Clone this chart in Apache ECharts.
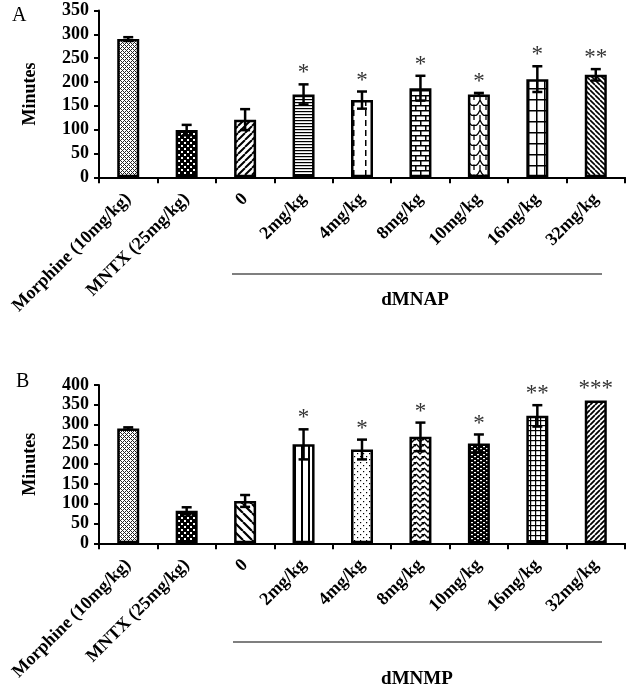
<!DOCTYPE html>
<html><head><meta charset="utf-8">
<script src="https://cdn.jsdelivr.net/npm/echarts@6/dist/echarts.min.js"></script>
<style>html,body{margin:0;padding:0;background:#fff}#c{width:630px;height:690px}</style>
</head><body><div id="c"></div>
<script>
// ---- data ----
const categories = ['Morphine (10mg/kg)', 'MNTX (25mg/kg)', '0', '2mg/kg', '4mg/kg', '8mg/kg', '10mg/kg', '16mg/kg', '32mg/kg'];
const valuesA = [290, 99, 121, 174, 162, 187, 174, 206, 215];
const errorsA = [4, 11, 22, 21, 18, 26, 3, 27, 12];
const sigA = ['', '', '', '*', '*', '*', '*', '*', '**'];
const valuesB = [290, 82, 107, 250, 237, 269, 252, 322, 361];
const errorsB = [3, 9, 15, 38, 25, 36, 23, 27, 0];
const sigB = ['', '', '', '*', '*', '*', '*', '**', '***'];
const yMaxA = 350, yMaxB = 400, yStep = 50;
const groupA = 'dMNAP', groupB = 'dMNMP';
const panelA = 'A', panelB = 'B';
const yTitle = 'Minutes';

// ---- patterns ----
const SERIF = '"Times New Roman", "Liberation Serif", serif';
function tile(w, h, draw, bg) {
  const c = document.createElement('canvas'); c.width = w; c.height = h;
  const g = c.getContext('2d');
  g.fillStyle = bg || '#fff'; g.fillRect(0, 0, w, h);
  g.strokeStyle = '#000'; g.fillStyle = '#000';
  draw(g, w, h);
  return { image: c, repeat: 'repeat' };
}
function diag(s, lw, dir) {
  return tile(s, s, g => {
    g.lineWidth = lw; g.beginPath();
    for (const k of [-s, 0, s]) {
      if (dir > 0) { g.moveTo(k, s); g.lineTo(k + s, 0); }
      else { g.moveTo(k, 0); g.lineTo(k + s, s); }
    }
    g.stroke();
  });
}
const pCross = tile(4, 4, g => {
  g.fillStyle = '#222';
  [[0,0],[1,1],[2,2],[3,3],[1,3],[3,1]].forEach(p => g.fillRect(p[0], p[1], 1, 1));
});
const pDarkDots = tile(6, 6, g => {
  g.fillStyle = '#fff'; g.fillRect(1, 1, 2, 2); g.fillRect(4, 4, 2, 2);
}, '#000');
const pHLines = tile(4, 3, g => { g.fillRect(0, 0, 4, 1.2); });
const pVDash = tile(12, 10, g => { g.fillRect(5, 0, 1.5, 6); });
const pBrick = tile(10, 10, g => {
  g.fillRect(0, 0, 10, 1.5); g.fillRect(0, 5, 10, 1.5);
  g.fillRect(0, 0, 1.5, 5); g.fillRect(5, 5, 1.5, 5);
});
const pScales = tile(12, 10, g => {
  g.lineWidth = 1.3; g.beginPath();
  g.moveTo(0, 0); g.quadraticCurveTo(3, 7, 6, 5); g.quadraticCurveTo(9, 7, 12, 0);
  g.moveTo(6, 5); g.quadraticCurveTo(6, 8, 6, 10);
  g.moveTo(0, 5); g.lineTo(0, 10); g.moveTo(12, 5); g.lineTo(12, 10);
  g.stroke();
});
const pGrid = tile(8, 11, g => { g.fillRect(0, 0, 8, 1.5); g.fillRect(0, 0, 1.5, 11); });
const pVLines = tile(7, 4, g => { g.fillRect(0, 0, 2, 4); });
const pSparseDots = tile(6, 6, g => { g.fillRect(0, 0, 1.2, 1.2); g.fillRect(3, 3, 1.2, 1.2); });
const pZigzag = tile(8, 6, g => {
  g.lineWidth = 1.4; g.beginPath();
  g.moveTo(0, 0); g.lineTo(4, 4); g.lineTo(8, 0);
  g.moveTo(0, 6); g.lineTo(4, 10); g.moveTo(4, -2); g.lineTo(8, 2);
  g.stroke();
});
const pDarkSmall = tile(6, 4, g => {
  g.fillStyle = '#fff'; g.fillRect(0, 0, 2, 1.2); g.fillRect(3, 2, 2, 1.2);
}, '#000');
const pSmallGrid = tile(5, 5, g => { g.fillRect(0, 0, 5, 1.2); g.fillRect(0, 0, 1.2, 5); });

const patternsA = [pCross, pDarkDots, diag(7, 2, 1), pHLines, pVDash, pBrick, pScales, pGrid, diag(5, 1.6, -1)];
const patternsB = [pCross, pDarkDots, diag(9, 2.2, -1), pVLines, pSparseDots, pZigzag, pDarkSmall, pSmallGrid, diag(5, 1.8, 1)];

// ---- chart ----
const chart = echarts.init(document.getElementById('c'), null, { renderer: 'canvas' });
const GRID_L = 99, GRID_W = 526;

function xAxis(gi) {
  return {
    type: 'category', gridIndex: gi, data: categories,
    axisLine: { lineStyle: { color: '#000', width: 2 } },
    axisTick: { show: true, length: 6, lineStyle: { color: '#000', width: 2 } },
    axisLabel: { interval: 0, rotate: 45, margin: 19, color: '#000', fontFamily: SERIF, fontWeight: 'bold', fontSize: 18 },
    splitLine: { show: false }
  };
}
function yAxis(gi, max) {
  return {
    type: 'value', gridIndex: gi, min: 0, max: max, interval: yStep,
    name: yTitle, nameLocation: 'middle', nameGap: 60,
    nameTextStyle: { color: '#000', fontFamily: SERIF, fontWeight: 'bold', fontSize: 18 },
    axisLine: { show: true, lineStyle: { color: '#000', width: 2 } },
    axisTick: { show: true, length: 5, lineStyle: { color: '#000', width: 2 } },
    axisLabel: { margin: 10, color: '#000', fontFamily: SERIF, fontWeight: 'bold', fontSize: 18 },
    splitLine: { show: false }
  };
}
function barSeries(gi, values, patterns) {
  return {
    type: 'bar', xAxisIndex: gi, yAxisIndex: gi, barWidth: 22,
    data: values.map((v, i) => ({ value: v, itemStyle: { color: patterns[i] } })),
    itemStyle: { borderColor: '#000', borderWidth: 2.5 },
    emphasis: { disabled: true }, animation: false, z: 2
  };
}
function errSeries(gi, values, errors, sig) {
  return {
    type: 'custom', xAxisIndex: gi, yAxisIndex: gi, z: 5, animation: false,
    data: values.map((v, i) => [i, v, errors[i]]),
    encode: { x: 0, y: 1 },
    renderItem: function (params, api) {
      const i = api.value(0), v = api.value(1), e = api.value(2);
      const top = api.coord([i, v + e]);
      const bot = api.coord([i, v - e]);
      const children = [];
      const ls = { stroke: '#000', lineWidth: 2.5 };
      if (e > 0) {
        children.push({ type: 'line', shape: { x1: top[0], y1: top[1], x2: bot[0], y2: bot[1] }, style: ls });
        children.push({ type: 'line', shape: { x1: top[0] - 5, y1: top[1], x2: top[0] + 5, y2: top[1] }, style: ls });
        children.push({ type: 'line', shape: { x1: bot[0] - 5, y1: bot[1], x2: bot[0] + 5, y2: bot[1] }, style: ls });
      }
      const s = sig[params.dataIndex];
      if (s) {
        children.push({ type: 'text', style: { text: s, x: top[0], y: top[1] - 11, align: 'center', verticalAlign: 'middle',
          font: 'normal 23px ' + SERIF, fill: '#333' } });
      }
      return { type: 'group', children: children };
    }
  };
}

const option = {
  backgroundColor: '#fff',
  animation: false,
  grid: [
    { left: GRID_L, width: GRID_W, top: 10.5, height: 166.8, containLabel: false },
    { left: GRID_L, width: GRID_W, top: 385, height: 158.3, containLabel: false }
  ],
  xAxis: [xAxis(0), xAxis(1)],
  yAxis: [yAxis(0, yMaxA), yAxis(1, yMaxB)],
  series: [
    barSeries(0, valuesA, patternsA), errSeries(0, valuesA, errorsA, sigA),
    barSeries(1, valuesB, patternsB), errSeries(1, valuesB, errorsB, sigB)
  ],
  graphic: [
    { type: 'text', left: 12, top: 6, style: { text: panelA, font: 'normal 20px ' + SERIF, fill: '#000' } },
    { type: 'text', left: 16, top: 372, style: { text: panelB, font: 'normal 20px ' + SERIF, fill: '#000' } },
    { type: 'line', shape: { x1: 232, y1: 274, x2: 602, y2: 274 }, style: { stroke: '#555', lineWidth: 1.5 } },
    { type: 'line', shape: { x1: 233, y1: 642, x2: 602, y2: 642 }, style: { stroke: '#555', lineWidth: 1.5 } },
    { type: 'text', x: 415, y: 300, style: { text: groupA, align: 'center', verticalAlign: 'middle', font: 'bold 19px ' + SERIF, fill: '#000' } },
    { type: 'text', x: 417, y: 679, style: { text: groupB, align: 'center', verticalAlign: 'middle', font: 'bold 19px ' + SERIF, fill: '#000' } }
  ]
};
chart.setOption(option);
</script>
</body></html>
